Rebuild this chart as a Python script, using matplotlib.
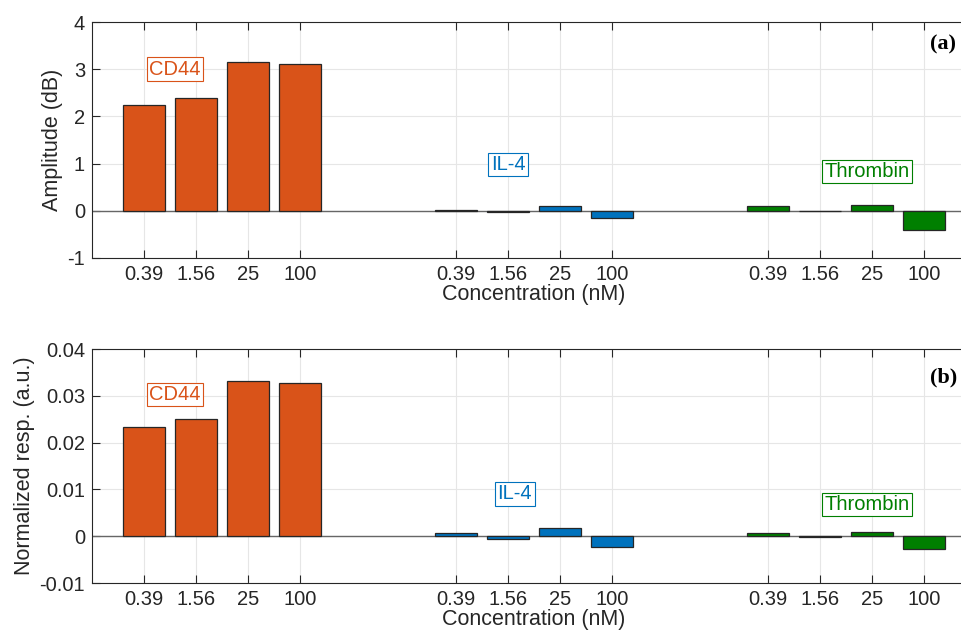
import numpy as np
import matplotlib
matplotlib.use('Agg')
import matplotlib.pyplot as plt

plt.rcParams['font.family'] = ['Liberation Sans', 'DejaVu Sans']

# data
conc_labels = ['0.39', '1.56', '25', '100']
targets = ['CD44', 'IL-4', 'Thrombin']
target_colors = ['#D95319', '#0072BD', '#007F00']

amp_cd44 = [2.24, 2.39, 3.15, 3.12]
amp_il4 = [0.02, -0.03, 0.10, -0.16]
amp_thrombin = [0.09, -0.01, 0.13, -0.41]

norm_cd44 = [0.0234, 0.0250, 0.0331, 0.0328]
norm_il4 = [0.0006, -0.0005, 0.0017, -0.0023]
norm_thrombin = [0.0007, -0.0001, 0.0010, -0.0028]

group_start = [1, 7, 13]  # x position of first bar in each group

fig = plt.figure(figsize=(9.61, 6.32), dpi=100)
ax_a = fig.add_axes([0.0957, 0.592, 0.920, 0.373])
ax_b = fig.add_axes([0.0957, 0.0775, 0.920, 0.370])


def draw_panel(ax, series, ylim, yticks, ylabel, label_pos):
    xt = []
    for g, vals in enumerate(series):
        x = group_start[g] + np.arange(len(vals))
        xt += list(x)
        ax.bar(x, vals, width=0.8, color=target_colors[g], edgecolor='0.15',
               linewidth=0.9, zorder=3)
        ax.text(label_pos[g][0], label_pos[g][1], targets[g], color=target_colors[g],
                fontsize=14.5, ha='center', va='center', zorder=4,
                bbox=dict(boxstyle='square,pad=0.12', fc='white',
                          ec=target_colors[g], lw=0.8))
    ax.axhline(0, color='0.4', lw=1.0, zorder=2)
    ax.set_xlim(0, 17)
    ax.set_ylim(*ylim)
    ax.set_yticks(yticks)
    ax.set_xticks(xt)
    ax.set_xticklabels(conc_labels * 3)
    ax.grid(True, color='0.9', lw=0.8, zorder=0)
    ax.tick_params(direction='in', length=6, top=True, right=False,
                   labelsize=14.5, colors='0.15', width=0.8, pad=5)
    for s in ax.spines.values():
        s.set_color('0.15')
        s.set_linewidth(0.8)
    ax.set_ylabel(ylabel, fontsize=15.5, color='0.15', labelpad=3)
    ax.set_xlabel('Concentration (nM)', fontsize=15.5, color='0.15', labelpad=0)


draw_panel(ax_a, [amp_cd44, amp_il4, amp_thrombin], (-1, 4), [-1, 0, 1, 2, 3, 4],
           'Amplitude (dB)', [(1.6, 3.0), (8.0, 0.98), (14.9, 0.83)])
ax_a.set_yticklabels(['-1', '0', '1', '2', '3', '4'])
draw_panel(ax_b, [norm_cd44, norm_il4, norm_thrombin], (-0.01, 0.04),
           [-0.01, 0, 0.01, 0.02, 0.03, 0.04],
           'Normalized resp. (a.u.)', [(1.6, 0.0303), (8.13, 0.0091), (14.9, 0.0068)])
ax_b.set_yticklabels(['-0.01', '0', '0.01', '0.02', '0.03', '0.04'])

fig.text(0.968, 0.929, '(a)', fontsize=16, fontweight='bold',
         family='Liberation Serif', ha='left', va='center')
fig.text(0.968, 0.402, '(b)', fontsize=16, fontweight='bold',
         family='Liberation Serif', ha='left', va='center')

fig.savefig('out.png', dpi=100)
